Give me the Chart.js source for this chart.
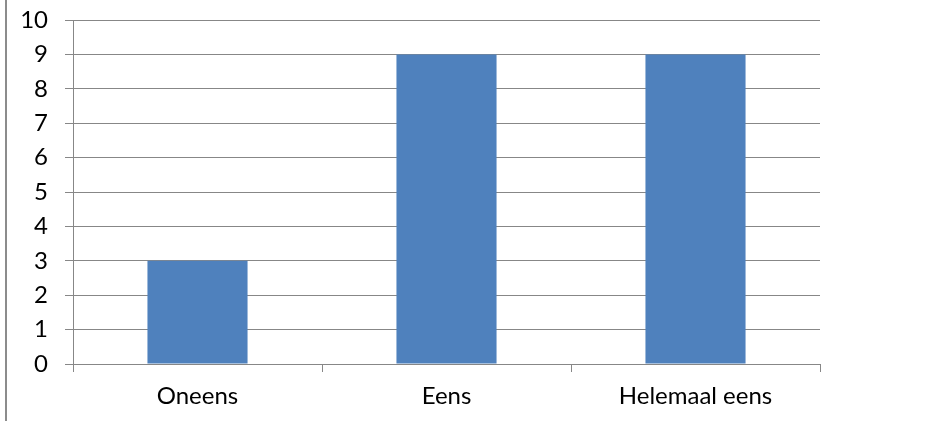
<!DOCTYPE html>
<html>
<head>
<meta charset="utf-8">
<script src="https://cdn.jsdelivr.net/npm/chart.js@4"></script>
<style>
  html, body { margin: 0; padding: 0; background: #fff; }
  #wrap { position: relative; width: 936px; height: 421px; }
  #frame { position: absolute; left: 5px; top: 0; width: 2px; height: 421px; background: #8c8c8c; }
</style>
</head>
<body>
<div id="wrap">
  <div id="frame"></div>
  <canvas id="barChart" width="936" height="421"></canvas>
</div>
<script>
const categories = ["Oneens", "Eens", "Helemaal eens"];
const counts = [3, 9, 9];
const yTicks = [0, 1, 2, 3, 4, 5, 6, 7, 8, 9, 10];

const gridGrey = "#878787";
const labelFont = { family: "Lato, 'Open Sans', sans-serif", size: 24 };

document.addEventListener("DOMContentLoaded", () => {
  const ctx = document.getElementById("barChart").getContext("2d");

  new Chart(ctx, {
    type: "bar",
    data: {
      labels: categories,
      datasets: [{
        data: counts,
        backgroundColor: "#4f81bd",
        borderWidth: 0,
        categoryPercentage: 1,
        barPercentage: 0.402
      }]
    },
    options: {
      responsive: false,
      animation: false,
      layout: { padding: { top: 20, right: 116, bottom: 0, left: 0 } },
      plugins: {
        legend: { display: false },
        tooltip: { enabled: false }
      },
      scales: {
        x: {
          grid: {
            offset: true,
            drawOnChartArea: false,
            drawTicks: true,
            tickLength: 8,
            color: gridGrey
          },
          border: { color: gridGrey, width: 1 },
          ticks: { color: "#000", font: labelFont, padding: 10 },
          afterFit: scale => {
            scale.height = 57;
            scale.paddingLeft = 0;
            scale.paddingRight = 0;
          }
        },
        y: {
          min: 0,
          max: 10,
          afterBuildTicks: scale => { scale.ticks = yTicks.map(v => ({ value: v })); },
          grid: { color: gridGrey, tickLength: 8 },
          border: { color: gridGrey, width: 1 },
          ticks: { color: "#000", font: labelFont, padding: 17 },
          afterFit: scale => {
            scale.width = 73;
            scale.paddingTop = 0;
            scale.paddingBottom = 0;
          }
        }
      }
    }
  });
});
</script>
</body>
</html>
